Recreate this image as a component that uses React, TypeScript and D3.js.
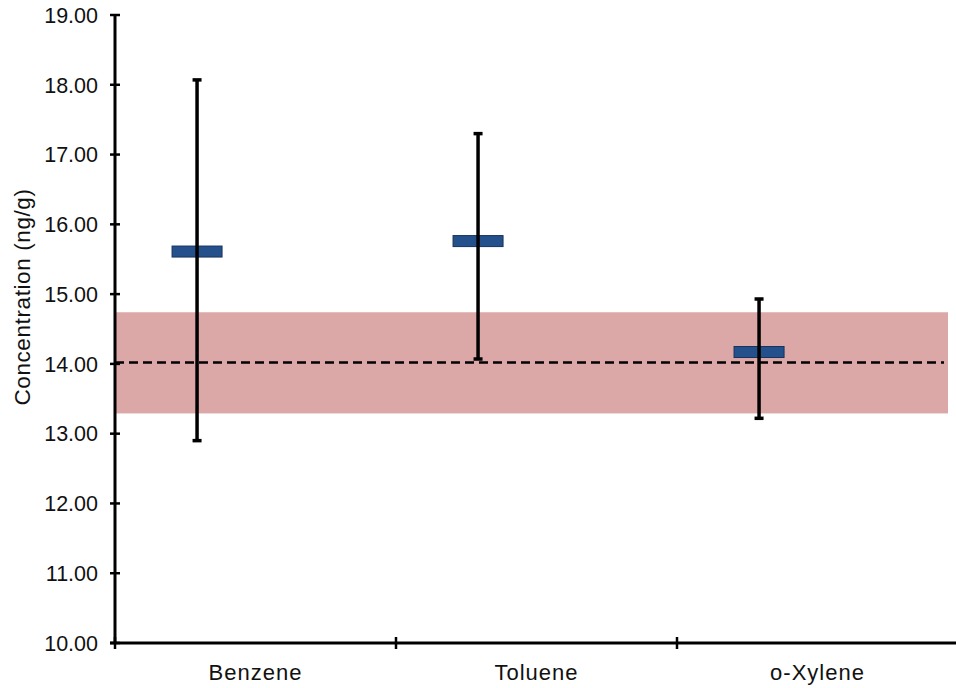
import React, { useRef, useEffect } from 'react';
import * as d3 from 'd3';

const compounds = ['Benzene', 'Toluene', 'o-Xylene'];
const means = [15.61, 15.76, 14.17];
const upper = [18.07, 17.30, 14.93];
const lower = [12.90, 14.07, 13.22];
const refValue = 14.02;
const refLow = 13.29;
const refHigh = 14.74;
const yTicks = [10, 11, 12, 13, 14, 15, 16, 17, 18, 19];

const App = () => {
  const svgRef = useRef<SVGSVGElement>(null);

  useEffect(() => {
    const svg = d3.select(svgRef.current);
    const width = 956;
    const height = 688;
    const margin = { top: 15, right: -2, bottom: 45, left: 115 };
    const font = '"Liberation Sans", Arial, Helvetica, sans-serif';

    svg.attr('width', width).attr('height', height);
    svg.selectAll('*').remove();

    const x = d3.scaleBand()
      .domain(compounds)
      .range([margin.left, width - margin.right])
      .padding(0);

    const y = d3.scaleLinear()
      .domain([10, 19])
      .range([height - margin.bottom, margin.top]);

    // marker sits left of the category centre (as in the original sheet)
    const markerX = (c: string) => x(c)! + x.bandwidth() * 0.292;

    // reference range band
    svg.append('rect')
      .attr('x', margin.left)
      .attr('y', y(refHigh))
      .attr('width', 948 - margin.left)
      .attr('height', y(refLow) - y(refHigh))
      .attr('fill', '#dca7a7');

    svg.append('line')
      .attr('x1', margin.left)
      .attr('x2', 944)
      .attr('y1', y(refValue))
      .attr('y2', y(refValue))
      .attr('stroke', '#000')
      .attr('stroke-width', 2.5)
      .attr('stroke-dasharray', '9,5');

    // mean markers
    svg.selectAll('.mean')
      .data(compounds)
      .enter()
      .append('rect')
      .attr('x', d => markerX(d) - 25)
      .attr('y', (d, i) => y(means[i]) - 5.5)
      .attr('width', 50)
      .attr('height', 11)
      .attr('fill', '#24508c')
      .attr('stroke', '#16335c')
      .attr('stroke-width', 1);

    // error bars
    compounds.forEach((c, i) => {
      const g = svg.append('g').attr('stroke', '#000');
      const cx = markerX(c);
      g.append('line')
        .attr('x1', cx).attr('x2', cx)
        .attr('y1', y(upper[i])).attr('y2', y(lower[i]))
        .attr('stroke-width', 3.5);
      [upper[i], lower[i]].forEach(v => {
        g.append('line')
          .attr('x1', cx - 4.5).attr('x2', cx + 4.5)
          .attr('y1', y(v)).attr('y2', y(v))
          .attr('stroke-width', 3.5);
      });
    });

    // y axis
    const yAxis = svg.append('g');
    yAxis.append('line')
      .attr('x1', margin.left).attr('x2', margin.left)
      .attr('y1', y(19)).attr('y2', y(10))
      .attr('stroke', '#000').attr('stroke-width', 3);
    yTicks.forEach(t => {
      yAxis.append('line')
        .attr('x1', margin.left - 5).attr('x2', margin.left + 5)
        .attr('y1', y(t)).attr('y2', y(t))
        .attr('stroke', '#000').attr('stroke-width', 2.5);
      yAxis.append('text')
        .attr('x', 98)
        .attr('y', y(t))
        .attr('dy', '0.36em')
        .attr('text-anchor', 'end')
        .style('font-family', font)
        .style('font-size', '21.5px')
        .attr('fill', '#111')
        .text(d3.format('.2f')(t));
    });

    // x axis
    const xAxis = svg.append('g');
    xAxis.append('line')
      .attr('x1', margin.left - 5).attr('x2', width)
      .attr('y1', y(10)).attr('y2', y(10))
      .attr('stroke', '#000').attr('stroke-width', 3);
    compounds.forEach(c => {
      xAxis.append('line')
        .attr('x1', x(c)!).attr('x2', x(c)!)
        .attr('y1', y(10) - 6).attr('y2', y(10) + 6)
        .attr('stroke', '#000').attr('stroke-width', 2.5);
      xAxis.append('text')
        .attr('x', x(c)! + x.bandwidth() / 2)
        .attr('y', 680)
        .attr('text-anchor', 'middle')
        .style('font-family', font)
        .style('font-size', '22px')
        .style('letter-spacing', '1px')
        .attr('fill', '#111')
        .text(c);
    });

    svg.append('text')
      .attr('transform', 'translate(30,297) rotate(-90)')
      .attr('text-anchor', 'middle')
      .style('font-family', font)
      .style('font-size', '22.5px')
      .style('letter-spacing', '0.6px')
      .attr('fill', '#111')
      .text('Concentration (ng/g)');
  }, []);

  return (
    <div style={{ position: 'absolute', left: 0, top: 0, width: 956, height: 688, background: '#fff' }}>
      <svg ref={svgRef} style={{ display: 'block' }}></svg>
    </div>
  );
};

export default App;
